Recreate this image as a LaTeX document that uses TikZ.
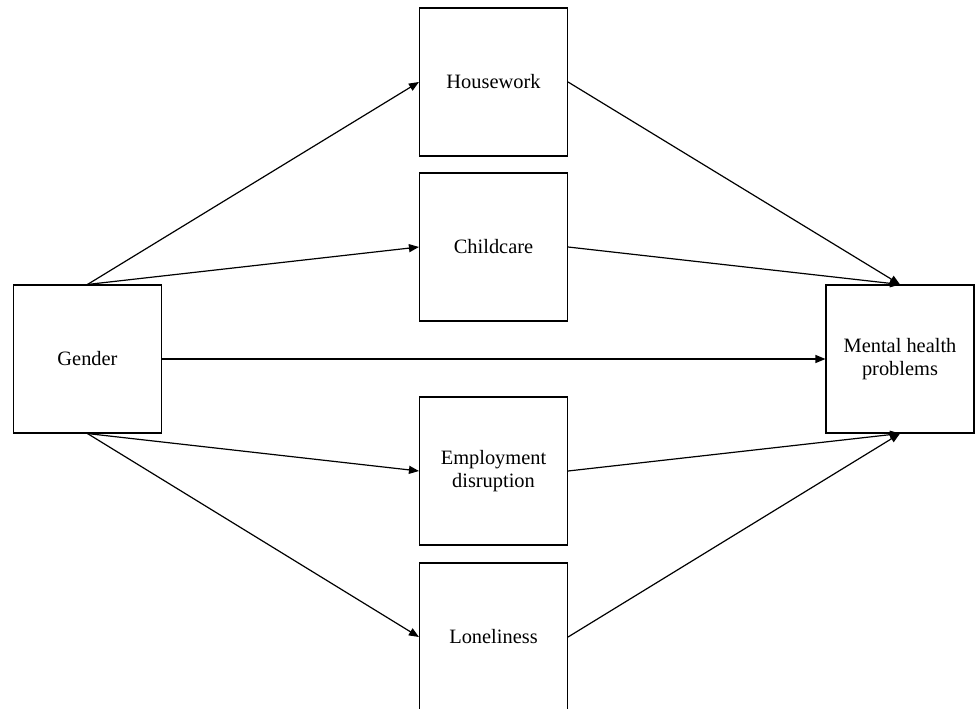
\documentclass[tikz,border=0pt]{standalone}
\usepackage{fontspec}
\setmainfont{Liberation Serif}
\usetikzlibrary{arrows.meta}
\begin{document}
\begin{tikzpicture}[x=1pt,y=-1pt,
  box/.style={draw, line width=1.1pt, minimum width=148pt, minimum height=148pt, inner sep=0pt, align=center, font=\fontsize{20.4}{23.5}\selectfont},
  conn/.style={line width=1.2pt, -{Triangle[length=10pt,width=8pt]}}]
\useasboundingbox (0,0) rectangle (975,709);
\node[box] (gen) at (87.5,359) {Gender};
\node[box] (mh) at (900,359) {Mental health\\problems};
\node[box] (hw) at (493.5,82) {Housework};
\node[box] (cc) at (493.5,247) {Childcare};
\node[box] (ed) at (493.5,471) {Employment\\disruption};
\node[box] (lo) at (493.5,637) {Loneliness};
\draw[conn] (gen.north) -- (hw.west);
\draw[conn] (gen.north) -- (cc.west);
\draw[conn] (gen.east) -- (mh.west);
\draw[conn] (gen.south) -- (ed.west);
\draw[conn] (gen.south) -- (lo.west);
\draw[conn] (hw.east) -- (mh.north);
\draw[conn] (cc.east) -- (mh.north);
\draw[conn] (ed.east) -- (mh.south);
\draw[conn] (lo.east) -- (mh.south);
\end{tikzpicture}
\end{document}
